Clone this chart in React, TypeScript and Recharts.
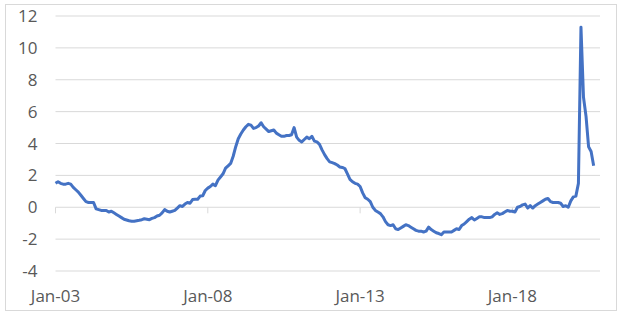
import React from "react";
import {
  LineChart,
  Line,
  XAxis,
  YAxis,
  CartesianGrid,
  ReferenceLine,
} from "recharts";

// monthly values, Jan 2003 .. Sep 2020
const values2003 = [1.5, 1.6, 1.5, 1.45, 1.45, 1.5, 1.45, 1.25, 1.1, 0.95, 0.75, 0.55];
const values2004 = [0.35, 0.3, 0.3, 0.3, -0.1, -0.15, -0.2, -0.2, -0.2, -0.3, -0.25, -0.35];
const values2005 = [-0.45, -0.55, -0.65, -0.75, -0.8, -0.85, -0.88, -0.88, -0.85, -0.82, -0.78, -0.72];
const values2006 = [-0.75, -0.78, -0.7, -0.65, -0.55, -0.5, -0.35, -0.15, -0.25, -0.3, -0.25, -0.2];
const values2007 = [-0.05, 0.1, 0.05, 0.2, 0.3, 0.25, 0.48, 0.5, 0.5, 0.7, 0.72, 1.05];
const values2008 = [1.2, 1.3, 1.45, 1.35, 1.7, 1.9, 2.1, 2.45, 2.6, 2.75, 3.2, 3.8];
const values2009 = [4.3, 4.6, 4.85, 5.05, 5.2, 5.15, 4.95, 5.0, 5.1, 5.3, 5.05, 4.9];
const values2010 = [4.75, 4.8, 4.85, 4.65, 4.55, 4.45, 4.45, 4.5, 4.5, 4.55, 5.0, 4.4];
const values2011 = [4.2, 4.1, 4.25, 4.4, 4.3, 4.45, 4.15, 4.1, 3.95, 3.6, 3.3, 3.05];
const values2012 = [2.85, 2.8, 2.74, 2.65, 2.53, 2.5, 2.43, 2.1, 1.75, 1.6, 1.5, 1.45];
const values2013 = [1.3, 0.9, 0.6, 0.5, 0.35, 0.0, -0.2, -0.3, -0.4, -0.6, -0.9, -1.1];
const values2014 = [-1.15, -1.1, -1.35, -1.4, -1.3, -1.2, -1.1, -1.15, -1.25, -1.35, -1.45, -1.5];
const values2015 = [-1.5, -1.55, -1.5, -1.25, -1.4, -1.5, -1.6, -1.65, -1.72, -1.55, -1.55, -1.55];
const values2016 = [-1.55, -1.45, -1.35, -1.4, -1.15, -1.05, -0.9, -0.75, -0.65, -0.8, -0.7, -0.6];
const values2017 = [-0.6, -0.65, -0.65, -0.65, -0.6, -0.45, -0.35, -0.45, -0.4, -0.3, -0.2, -0.25];
const values2018 = [-0.25, -0.3, 0.0, 0.05, 0.15, 0.2, -0.05, 0.1, -0.05, 0.1, 0.2, 0.3];
const values2019 = [0.4, 0.5, 0.55, 0.35, 0.3, 0.3, 0.3, 0.25, 0.05, 0.1, 0.0, 0.4];
const values2020 = [0.65, 0.7, 1.5, 11.3, 6.9, 5.7, 3.8, 3.5, 2.6];

const allValues = [
  ...values2003, ...values2004, ...values2005, ...values2006, ...values2007,
  ...values2008, ...values2009, ...values2010, ...values2011, ...values2012,
  ...values2013, ...values2014, ...values2015, ...values2016, ...values2017,
  ...values2018, ...values2019, ...values2020,
];

const xTickMonths = [0, 60, 120, 180];
const xTickLabels = ["Jan-03", "Jan-08", "Jan-13", "Jan-18"];
const yTicks = [-4, -2, 0, 2, 4, 6, 8, 10, 12];

const data = allValues.map((v, i) => ({ month: i, value: v }));

const tickStyle = { fontSize: 17, fill: "#595959", fontFamily: "'Open Sans', sans-serif" };

export default function App() {
  return (
    <div style={{ position: "absolute", left: 0, top: 0, width: 625, height: 316, background: "#fff" }}>
      <div
        style={{
          position: "absolute",
          left: 5,
          top: 4,
          width: 612,
          height: 307,
          border: "1px solid #d9d9d9",
          boxSizing: "border-box",
        }}
      />
      <div style={{ position: "absolute", left: 0, top: 0 }}>
        <LineChart width={625} height={316} data={data} margin={{ top: 16, right: 25, bottom: 0, left: 0 }}>
          <CartesianGrid vertical={false} stroke="#d9d9d9" strokeWidth={1} />
          <XAxis
            dataKey="month"
            type="number"
            domain={[0, 214.5]}
            ticks={xTickMonths}
            tickFormatter={(m) => xTickLabels[xTickMonths.indexOf(m)] ?? ""}
            tick={tickStyle}
            axisLine={false}
            tickLine={false}
            tickMargin={13}
            height={45}
            interval={0}
          />
          <YAxis
            type="number"
            domain={[-4, 12]}
            ticks={yTicks}
            tick={tickStyle}
            axisLine={false}
            tickLine={false}
            tickMargin={12}
            width={55.5}
            interval={0}
          />
          {xTickMonths.map((m) => (
            <ReferenceLine
              key={m}
              segment={[
                { x: m, y: 0 },
                { x: m, y: -0.38 },
              ]}
              stroke="#d9d9d9"
              strokeWidth={1}
            />
          ))}
          <Line
            type="linear"
            dataKey="value"
            stroke="#4472C4"
            strokeWidth={3}
            dot={false}
            strokeLinejoin="round"
            isAnimationActive={false}
          />
        </LineChart>
      </div>
    </div>
  );
}
